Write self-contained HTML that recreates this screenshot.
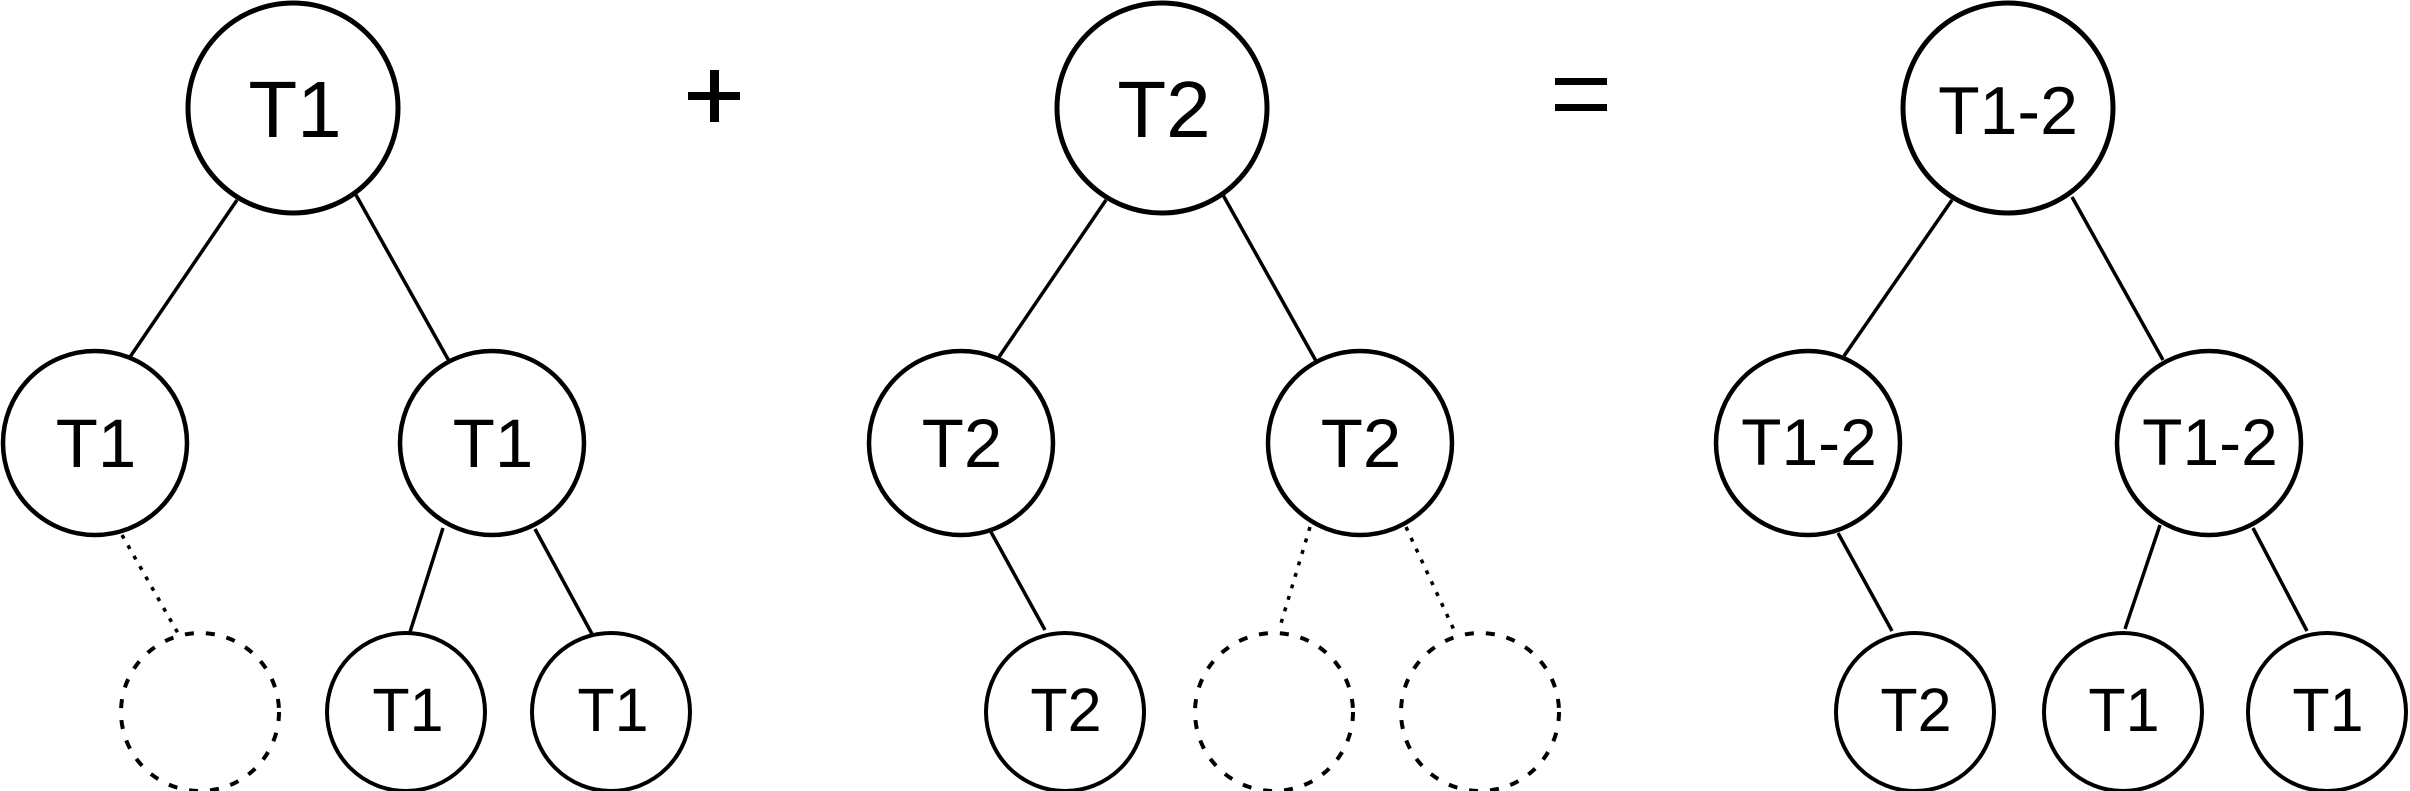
<!DOCTYPE html>
<html><head><meta charset="utf-8"><style>html,body{margin:0;padding:0;background:#fff}svg{display:block}</style></head>
<body>
<svg width="2410" height="791" viewBox="0 0 2410 791" xmlns="http://www.w3.org/2000/svg" font-family="Liberation Sans, Arial, sans-serif" text-anchor="middle">
<g stroke="#000" stroke-width="3.5" fill="none">
<line x1="237" y1="200" x2="130" y2="357"/>
<line x1="356" y1="195" x2="449" y2="361"/>
<line x1="122" y1="535" x2="179" y2="635" stroke-dasharray="4,8"/>
<line x1="443" y1="528" x2="410" y2="632"/>
<line x1="535" y1="529" x2="592" y2="634"/>
<line x1="1106" y1="200" x2="999" y2="357"/>
<line x1="1223" y1="195" x2="1316" y2="361"/>
<line x1="991" y1="532" x2="1045" y2="630"/>
<line x1="1310" y1="527" x2="1279" y2="630" stroke-dasharray="4,8"/>
<line x1="1406" y1="527" x2="1454" y2="630" stroke-dasharray="4,8"/>
<line x1="1952" y1="200" x2="1844" y2="356"/>
<line x1="2072" y1="197" x2="2163" y2="360"/>
<line x1="1838" y1="533" x2="1892" y2="631"/>
<line x1="2160" y1="525" x2="2125" y2="629"/>
<line x1="2253" y1="528" x2="2307" y2="631"/>
</g>
<g stroke="#000" fill="#fff">
<circle cx="293" cy="108" r="105" stroke-width="5"/>
<circle cx="95" cy="443" r="92" stroke-width="4.5"/>
<circle cx="492" cy="443" r="92" stroke-width="4.5"/>
<circle cx="200" cy="712" r="79" stroke-width="4" stroke-dasharray="9,12"/>
<circle cx="406" cy="712" r="79" stroke-width="4"/>
<circle cx="611" cy="712" r="79" stroke-width="4"/>
<circle cx="1162" cy="108" r="105" stroke-width="5"/>
<circle cx="961" cy="443" r="92" stroke-width="4.5"/>
<circle cx="1360" cy="443" r="92" stroke-width="4.5"/>
<circle cx="1065" cy="712" r="79" stroke-width="4"/>
<circle cx="1274" cy="712" r="79" stroke-width="4" stroke-dasharray="9,12"/>
<circle cx="1480" cy="712" r="79" stroke-width="4" stroke-dasharray="9,12"/>
<circle cx="2008" cy="108" r="105" stroke-width="5"/>
<circle cx="1808" cy="443" r="92" stroke-width="4.5"/>
<circle cx="2209" cy="443" r="92" stroke-width="4.5"/>
<circle cx="1915" cy="712" r="79" stroke-width="4"/>
<circle cx="2123" cy="712" r="79" stroke-width="4"/>
<circle cx="2327" cy="712" r="79" stroke-width="4"/>
</g>
<g fill="#000">
<text x="295" y="137" font-size="80">T1</text>
<text x="96" y="467" font-size="69">T1</text>
<text x="493" y="467" font-size="69">T1</text>
<text x="408" y="731" font-size="61">T1</text>
<text x="613" y="731" font-size="61">T1</text>
<text x="1164" y="137" font-size="80">T2</text>
<text x="962" y="467" font-size="69">T2</text>
<text x="1361" y="467" font-size="69">T2</text>
<text x="1066" y="731" font-size="61">T2</text>
<text x="2008" y="134" font-size="68">T1-2</text>
<text x="1809" y="465" font-size="66">T1-2</text>
<text x="2210" y="465" font-size="66">T1-2</text>
<text x="1916" y="731" font-size="61">T2</text>
<text x="2124" y="731" font-size="61">T1</text>
<text x="2328" y="731" font-size="61">T1</text>
<rect x="688" y="92" width="52" height="8"/>
<rect x="710" y="70" width="9" height="52"/>
<rect x="1555" y="78" width="52" height="7"/>
<rect x="1555" y="104" width="52" height="7"/>
</g>
</svg>
</body></html>
